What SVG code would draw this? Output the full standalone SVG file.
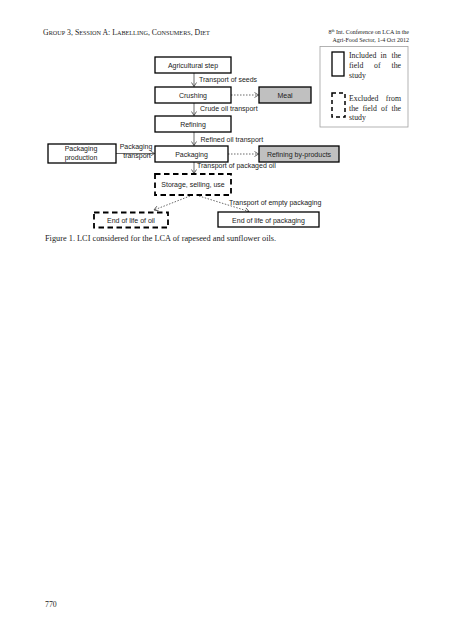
<svg xmlns="http://www.w3.org/2000/svg" width="453" height="640" viewBox="0 0 453 640">
<style>
.bg{fill:#fff}
.box{fill:#fff;stroke:#000;stroke-width:1.3}
.gbox{fill:#c0c0c0;stroke:#000;stroke-width:1.3}
.dbox{fill:#fff;stroke:#000;stroke-width:1.8;stroke-dasharray:5.5 3.5}
.lbl{font-family:"Liberation Sans",Arial,sans-serif;font-size:7px;fill:#222}
.c{text-anchor:middle}
.ser{font-family:"Liberation Serif","Times New Roman",serif;fill:#222}
.hd{font-size:7.8px}
.sc{font-size:6.2px}
.lg{font-size:7.8px}
.solid{stroke:#444;stroke-width:0.8;fill:none}
.dot{stroke:#444;stroke-width:0.8;fill:none;stroke-dasharray:1.5 1.5}
</style>
<defs>
<marker id="ah" markerWidth="6" markerHeight="6" refX="5" refY="3" orient="auto" markerUnits="userSpaceOnUse">
<polyline points="1,0.5 5,3 1,5.5" fill="none" stroke="#444" stroke-width="0.8"/>
</marker>
</defs>
<rect class="bg" x="0" y="0" width="453" height="640"/>

<g id="header">
<text class="ser hd" x="43" y="35">G<tspan class="sc">ROUP</tspan> 3, S<tspan class="sc">ESSION</tspan> A: L<tspan class="sc">ABELLING</tspan>, C<tspan class="sc">ONSUMERS</tspan>, D<tspan class="sc">IET</tspan></text>
<text class="ser" font-size="6" x="409" y="34" text-anchor="end">8<tspan font-size="4" dy="-2">th</tspan><tspan dy="2"> Int. Conference on LCA in the</tspan></text>
<text class="ser" font-size="6" x="409" y="42" text-anchor="end">Agri-Food Sector, 1-4 Oct 2012</text>
</g>

<g id="legend">
<rect x="320" y="46.5" width="88" height="80.5" fill="#fff" stroke="#a0a0a0" stroke-width="0.8"/>
<rect x="332" y="52" width="12" height="24" fill="#fff" stroke="#000" stroke-width="1.3"/>
<rect x="332" y="93" width="13" height="24" fill="#fff" stroke="#000" stroke-width="1.5" stroke-dasharray="4 3"/>
<text class="ser lg" x="349" y="58">Included</text>
<text class="ser lg" x="380.5" y="58">in</text>
<text class="ser lg" x="401" y="58" text-anchor="end">the</text>
<text class="ser lg" x="349" y="68">field</text>
<text class="ser lg" x="374" y="68">of</text>
<text class="ser lg" x="401" y="68" text-anchor="end">the</text>
<text class="ser lg" x="349" y="78">study</text>
<text class="ser lg" x="349" y="101">Excluded</text>
<text class="ser lg" x="401" y="101" text-anchor="end">from</text>
<text class="ser lg" x="349" y="110.5">the</text>
<text class="ser lg" x="362.5" y="110.5">field</text>
<text class="ser lg" x="381" y="110.5">of</text>
<text class="ser lg" x="401" y="110.5" text-anchor="end">the</text>
<text class="ser lg" x="349" y="120">study</text>
</g>

<g id="connectors">
<line class="solid" x1="194" y1="73" x2="194" y2="86.5" marker-end="url(#ah)"/>
<line class="solid" x1="194" y1="103" x2="194" y2="115.5" marker-end="url(#ah)"/>
<line class="solid" x1="194" y1="132" x2="194" y2="145.5" marker-end="url(#ah)"/>
<line class="solid" x1="194" y1="162" x2="194" y2="173.5" marker-end="url(#ah)"/>
<line class="solid" x1="116" y1="153.5" x2="154.5" y2="153.5" marker-end="url(#ah)"/>
<line class="dot" x1="231" y1="95" x2="258.5" y2="95" marker-end="url(#ah)"/>
<line class="dot" x1="228" y1="154" x2="258.5" y2="154" marker-end="url(#ah)"/>
<line class="dot" x1="190" y1="196" x2="154" y2="210" marker-end="url(#ah)"/>
<line class="dot" x1="199" y1="196" x2="249" y2="211.5" marker-end="url(#ah)"/>
<text class="lbl" x="199" y="82">Transport of seeds</text>
<text class="lbl" x="200" y="111">Crude oil transport</text>
<text class="lbl" x="200.5" y="141.5">Refined oil transport</text>
<text class="lbl" x="197" y="168">Transport of packaged oil</text>
<text class="lbl c" x="136" y="149">Packaging</text>
<text class="lbl c" x="137" y="158">transport</text>
<text class="lbl" x="229" y="205">Transport of empty packaging</text>
</g>

<g id="n-agri"><rect class="box" x="155" y="57" width="76" height="16"/><text class="lbl c" x="193" y="67.5">Agricultural step</text></g>
<g id="n-crushing"><rect class="box" x="155" y="87" width="76" height="16"/><text class="lbl c" x="193" y="97.5">Crushing</text></g>
<g id="n-meal"><rect class="gbox" x="259" y="87" width="52" height="16"/><text class="lbl c" x="285" y="97.5">Meal</text></g>
<g id="n-refining"><rect class="box" x="155" y="116" width="76" height="16"/><text class="lbl c" x="193" y="126.5">Refining</text></g>
<g id="n-packprod"><rect class="box" x="48" y="144" width="68" height="19"/><text class="lbl c" x="81" y="151">Packaging</text><text class="lbl c" x="81" y="159.5">production</text></g>
<g id="n-packaging"><rect class="box" x="155" y="146" width="73" height="16"/><text class="lbl c" x="191.5" y="156.5">Packaging</text></g>
<g id="n-byprod"><rect class="gbox" x="259" y="146" width="80" height="16"/><text class="lbl c" x="299" y="156.5">Refining by-products</text></g>
<g id="n-storage"><rect class="dbox" x="155" y="174" width="76" height="21"/><text class="lbl c" x="193" y="187">Storage, selling, use</text></g>
<g id="n-eol-oil"><rect class="dbox" x="94" y="212.5" width="74" height="15"/><text class="lbl c" x="131" y="222.5">End of life of oil</text></g>
<g id="n-eol-pack"><rect class="box" x="218" y="212" width="101" height="15"/><text class="lbl c" x="268.5" y="222.5">End of life of packaging</text></g>

<text class="ser" font-size="8.3" x="45" y="241">Figure 1. LCI considered for the LCA of rapeseed and sunflower oils.</text>
<text class="ser hd" x="45" y="607">770</text>
</svg>
